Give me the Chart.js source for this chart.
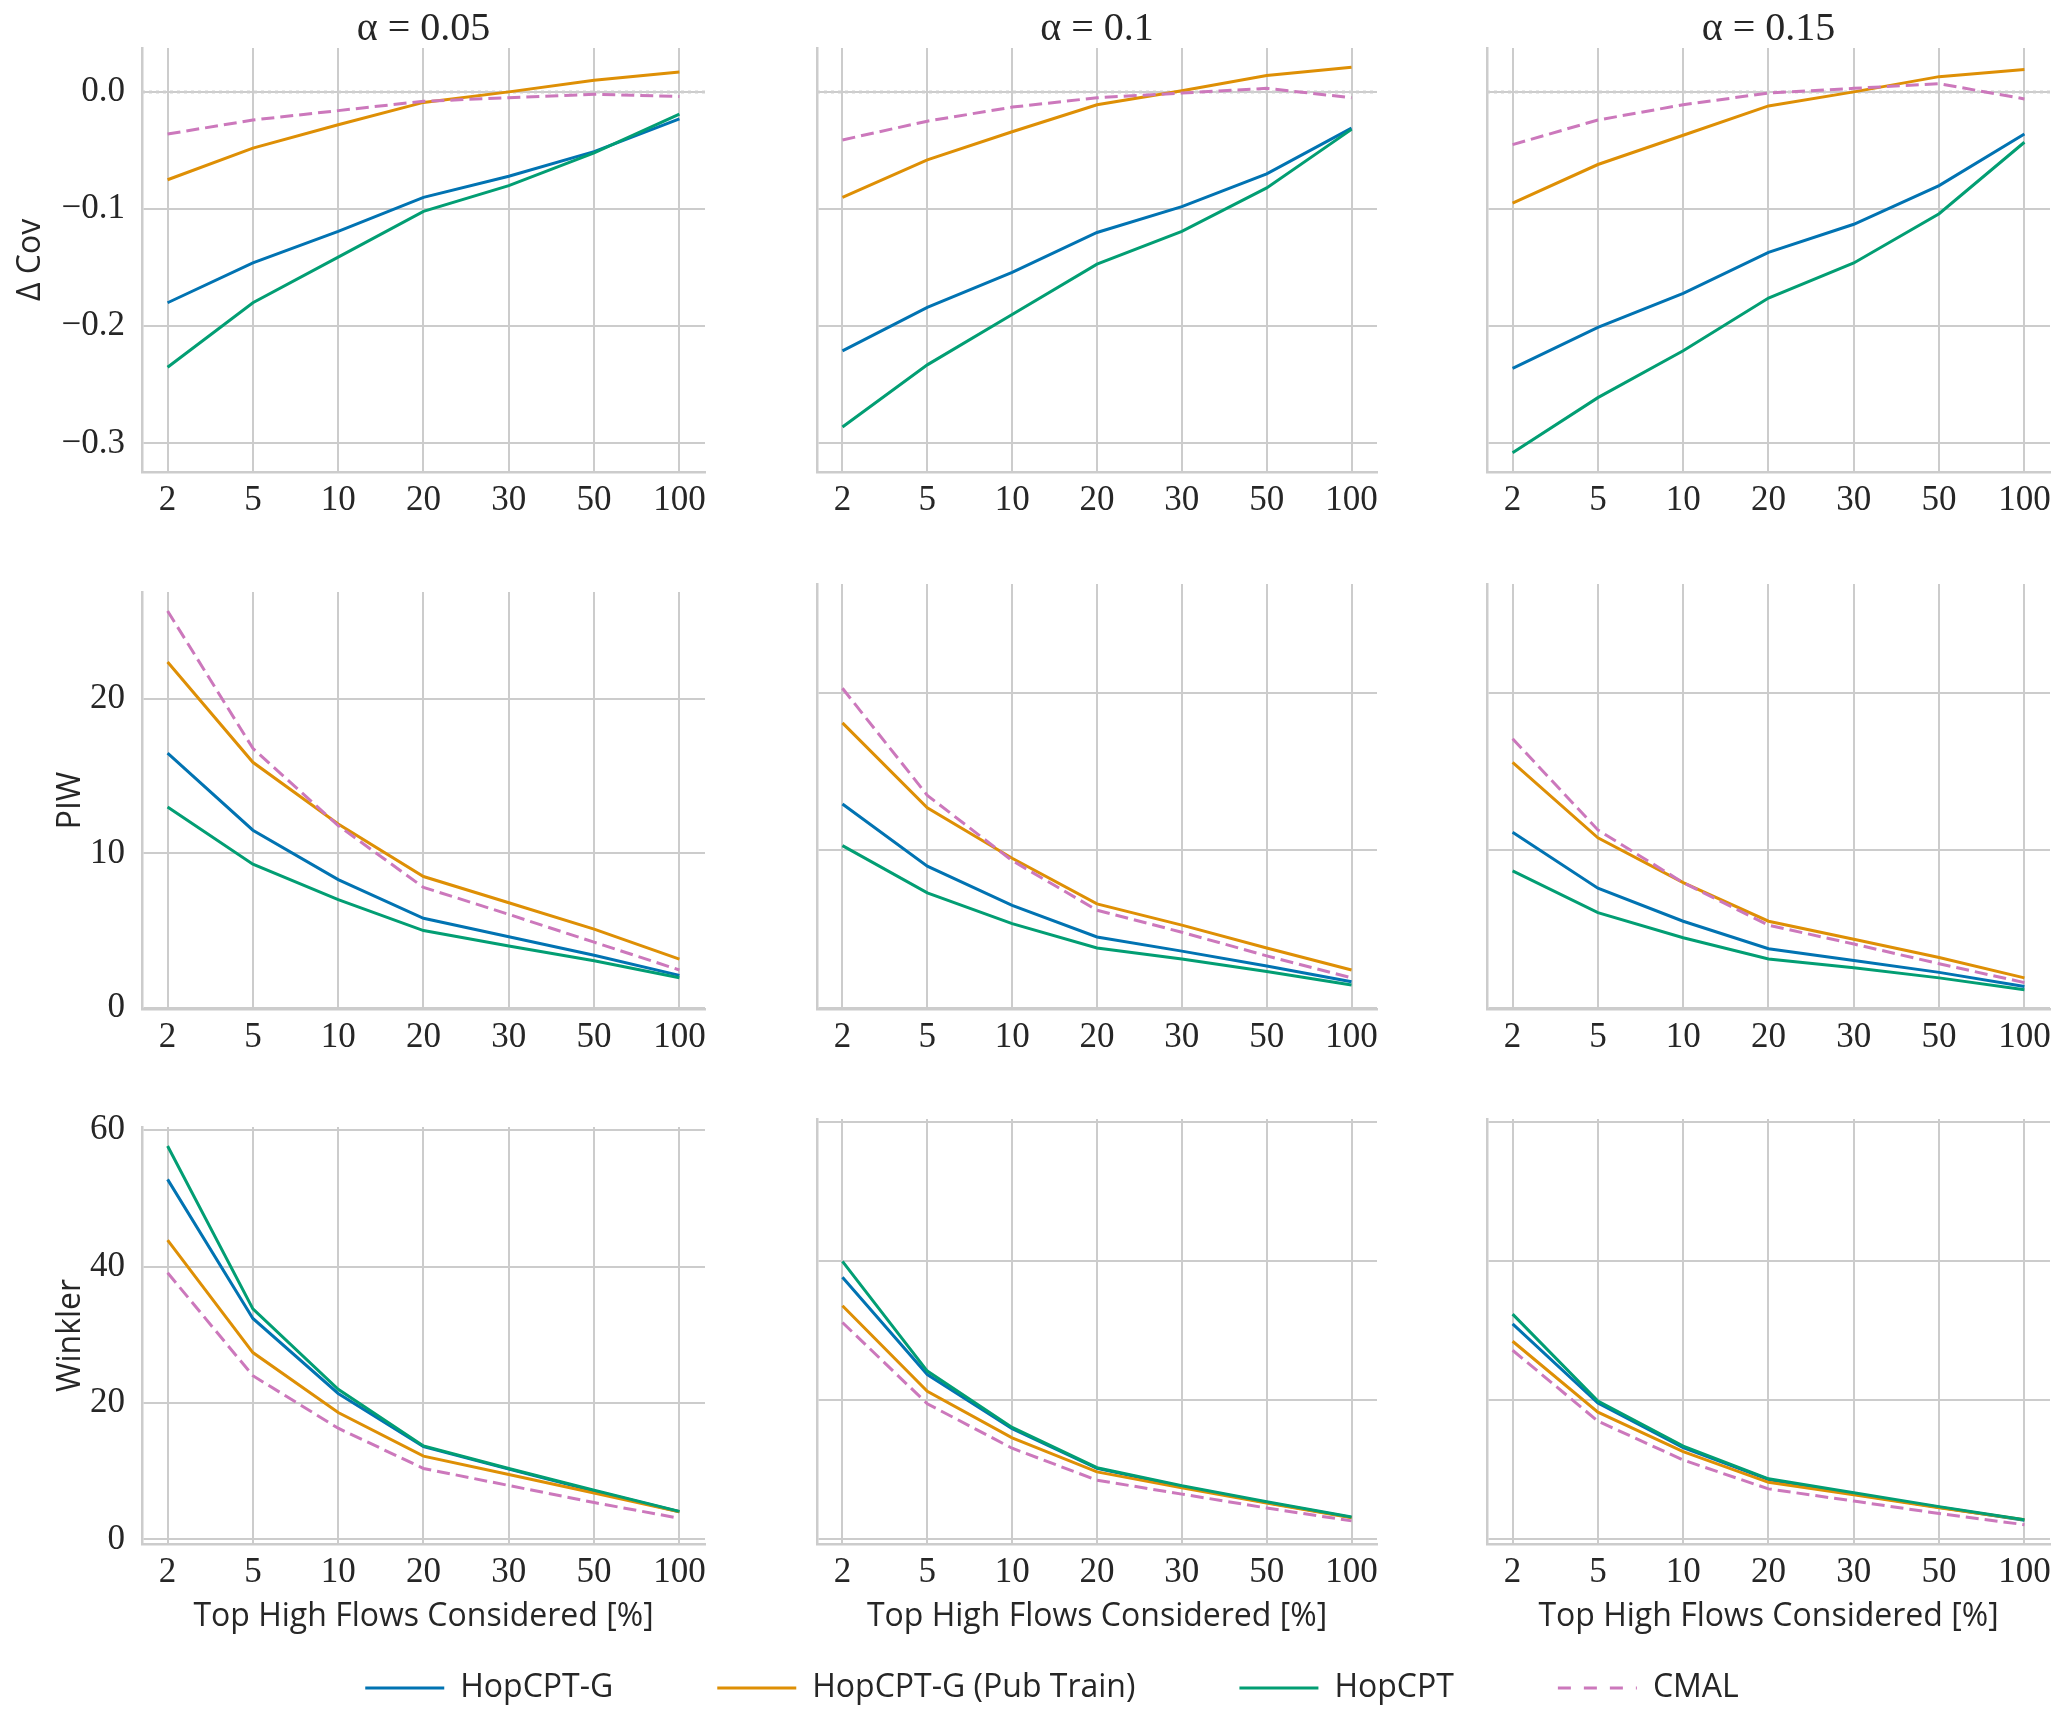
<!DOCTYPE html>
<html>
<head>
<meta charset="utf-8">
<script src="https://cdn.jsdelivr.net/npm/chart.js@4.4.1/dist/chart.umd.min.js"></script>
<style>
html, body { margin: 0; padding: 0; background: #fff; overflow: hidden; }
#fig { position: relative; width: 2067px; height: 1725px; overflow: hidden; }
#fig canvas { position: absolute; }
</style>
</head>
<body>
<div id="fig"></div>
<script>
// x categories (top high flows considered, %)
const categories = ['2', '5', '10', '20', '30', '50', '100'];
const alphaTitles = ['α = 0.05', 'α = 0.1', 'α = 0.15'];
const rowLabels = ['Δ Cov', 'PIW', 'Winkler'];
const xLabel = 'Top High Flows Considered [%]';

const covTicks = [-0.3, -0.2, -0.1, 0.0];
const piwTicks = [0, 10, 20];
const winklerTicks = [0, 20, 40, 60];

// each array: one row of 7 values per alpha (0.05, 0.1, 0.15)
const hopG_cov = [
    [-0.180, -0.146, -0.119, -0.090, -0.072, -0.051, -0.023],
    [-0.221, -0.184, -0.154, -0.120, -0.098, -0.070, -0.031],
    [-0.236, -0.201, -0.172, -0.137, -0.113, -0.080, -0.036]
];
const hopGPub_cov = [
    [-0.075, -0.048, -0.028, -0.009, 0.000, 0.010, 0.017],
    [-0.090, -0.058, -0.034, -0.011, 0.001, 0.014, 0.021],
    [-0.095, -0.062, -0.037, -0.012, 0.000, 0.013, 0.019]
];
const hop_cov = [
    [-0.235, -0.180, -0.141, -0.102, -0.080, -0.052, -0.019],
    [-0.286, -0.233, -0.190, -0.147, -0.119, -0.082, -0.032],
    [-0.308, -0.261, -0.221, -0.176, -0.146, -0.104, -0.043]
];
const cmal_cov = [
    [-0.036, -0.024, -0.016, -0.008, -0.005, -0.002, -0.004],
    [-0.041, -0.025, -0.013, -0.005, -0.001, 0.003, -0.005],
    [-0.045, -0.024, -0.011, -0.001, 0.003, 0.007, -0.006]
];

const hopG_piw = [
    [16.5, 11.5, 8.3, 5.8, 4.6, 3.4, 2.1],
    [12.95, 9.0, 6.5, 4.5, 3.6, 2.65, 1.65],
    [11.15, 7.6, 5.5, 3.75, 3.0, 2.25, 1.35]
];
const hopGPub_piw = [
    [22.4, 15.9, 11.9, 8.5, 6.8, 5.1, 3.15],
    [18.1, 12.7, 9.5, 6.6, 5.25, 3.8, 2.4],
    [15.6, 10.8, 7.95, 5.5, 4.35, 3.2, 1.9]
];
const hop_piw = [
    [13.0, 9.3, 7.0, 5.0, 4.0, 3.05, 1.95],
    [10.3, 7.3, 5.35, 3.8, 3.1, 2.3, 1.45],
    [8.7, 6.05, 4.45, 3.1, 2.55, 1.9, 1.15]
];
const cmal_piw = [
    [25.7, 16.8, 11.8, 7.8, 6.05, 4.25, 2.45],
    [20.3, 13.5, 9.35, 6.2, 4.8, 3.3, 1.9],
    [17.1, 11.3, 7.95, 5.25, 4.05, 2.8, 1.6]
];

const hopG_wink = [
    [52.8, 32.4, 21.4, 13.6, 10.3, 7.1, 4.05],
    [37.7, 23.7, 15.9, 10.2, 7.6, 5.3, 3.15],
    [31.0, 19.6, 13.2, 8.6, 6.5, 4.6, 2.75]
];
const hopGPub_wink = [
    [43.9, 27.4, 18.6, 12.2, 9.5, 6.8, 4.05],
    [33.6, 21.3, 14.6, 9.7, 7.4, 5.2, 3.1],
    [28.5, 18.3, 12.6, 8.2, 6.4, 4.55, 2.8]
];
const hop_wink = [
    [57.7, 33.8, 22.0, 13.7, 10.4, 7.2, 4.1],
    [40.0, 24.2, 16.1, 10.3, 7.7, 5.4, 3.2],
    [32.4, 19.9, 13.4, 8.7, 6.7, 4.7, 2.8]
];
const cmal_wink = [
    [39.1, 24.0, 16.3, 10.4, 7.9, 5.4, 3.1],
    [31.2, 19.5, 13.1, 8.5, 6.5, 4.5, 2.65],
    [27.2, 17.0, 11.4, 7.25, 5.5, 3.7, 2.1]
];

const models = [
    { name: 'HopCPT-G', color: '#0173b2', dash: [], legendDash: [] },
    { name: 'HopCPT-G (Pub Train)', color: '#de8f05', dash: [], legendDash: [] },
    { name: 'HopCPT', color: '#029e73', dash: [], legendDash: [] },
    { name: 'CMAL', color: '#cc78bc', dash: [13, 6], legendDash: [13, 13] }
];

const rows = [
    { series: [hopG_cov, hopGPub_cov, hop_cov, cmal_cov], ticks: covTicks, fmt: v => v.toFixed(1).replace('-', '\u2212') },
    { series: [hopG_piw, hopGPub_piw, hop_piw, cmal_piw], ticks: piwTicks, fmt: v => String(v) },
    { series: [hopG_wink, hopGPub_wink, hop_wink, cmal_wink], ticks: winklerTicks, fmt: v => String(v) }
];

// figure geometry (pixels)
const colLefts = [142, 817, 1487];
const colRights = [705, 1377, 2050];
const rowTops = [48, 584, 1119];
const rowHeights = [424, 425, 425];

const textColor = '#262626';
const gridColor = '#cccccc';
const serif = "'Liberation Serif', 'DejaVu Serif', serif";
const sans = "'Open Sans', Lato, sans-serif";

const xMin = -0.05 * (categories.length - 1);
const xMax = (categories.length - 1) * 1.05;

function rowLimits(series) {
    let all = [];
    series.forEach(s => s.forEach(a => all = all.concat(a)));
    let lo = Math.min(...all), hi = Math.max(...all);
    let m = (hi - lo) * 0.05;
    return [lo - m, hi + m];
}

const fig = document.getElementById('fig');

function makeCanvas(left, top, w, h) {
    let c = document.createElement('canvas');
    c.width = w;
    c.height = h;
    c.style.left = left + 'px';
    c.style.top = top + 'px';
    c.style.width = w + 'px';
    c.style.height = h + 'px';
    fig.appendChild(c);
    return c;
}

function makePanel(r, col) {
    const row = rows[r];
    const [yMin, yMax] = rowLimits(row.series);
    const top = rowTops[r];
    const bottom = top + rowHeights[r];
    const canvasLeft = col === 0 ? 0 : colLefts[col] - 50;
    const padLeft = col === 0 ? (r === 0 ? 12 : 52) : 0;
    const yAxisW = colLefts[col] - canvasLeft - padLeft;
    const canvasTop = r === 0 ? 0 : top - 30;
    const padTop = r === 0 ? 0 : 30;
    const xAxisH = r === 2 ? 92 : 62;
    const w = colRights[col] + 20 - canvasLeft;
    const h = bottom + xAxisH + 4 - canvasTop;

    const datasets = models.map((m, k) => ({
        label: m.name,
        data: row.series[k][col].map((v, i) => ({ x: i, y: v })),
        borderColor: m.color,
        backgroundColor: m.color,
        borderWidth: 3,
        borderDash: m.dash,
        pointRadius: 0,
        tension: 0,
        order: 4 - k
    }));
    if (r === 0) {
        datasets.push({
            label: 'zero',
            data: [{ x: xMin, y: 0 }, { x: xMax, y: 0 }],
            borderColor: '#cfcfcf',
            borderWidth: 3,
            borderDash: [3, 4],
            pointRadius: 0,
            order: 10
        });
    }

    new Chart(makeCanvas(canvasLeft, canvasTop, w, h), {
        type: 'line',
        data: { datasets: datasets },
        options: {
            responsive: false,
            animation: false,
            layout: { padding: { left: padLeft, top: padTop, right: 20, bottom: 4 } },
            plugins: {
                legend: { display: false },
                tooltip: { enabled: false },
                title: {
                    display: r === 0,
                    fullSize: false,
                    text: alphaTitles[col],
                    color: textColor,
                    font: { family: serif, size: 40, weight: 'normal', lineHeight: 1 },
                    padding: { top: 9, bottom: -1 }
                }
            },
            scales: {
                x: {
                    type: 'linear',
                    min: xMin,
                    max: xMax,
                    afterBuildTicks: s => { s.ticks = categories.map((c, i) => ({ value: i })); },
                    afterFit: s => { s.height = xAxisH; },
                    ticks: {
                        color: textColor,
                        font: { family: serif, size: 35 },
                        padding: 8,
                        maxRotation: 0,
                        autoSkip: false,
                        callback: v => categories[v]
                    },
                    grid: { color: gridColor, lineWidth: 2, drawTicks: false },
                    border: { display: true, color: gridColor, width: 2.5 },
                    title: {
                        display: r === 2,
                        text: xLabel,
                        color: textColor,
                        font: { family: sans, size: 32 },
                        padding: { top: 0, bottom: 0 }
                    }
                },
                y: {
                    type: 'linear',
                    min: yMin,
                    max: yMax,
                    afterBuildTicks: s => { s.ticks = row.ticks.map(v => ({ value: v })); },
                    afterFit: s => { s.width = yAxisW; },
                    ticks: {
                        display: col === 0,
                        color: textColor,
                        font: { family: serif, size: 35 },
                        padding: 17,
                        callback: v => row.fmt(v)
                    },
                    grid: { color: gridColor, lineWidth: 2, drawTicks: false },
                    border: { display: true, color: gridColor, width: 2.5 },
                    title: {
                        display: col === 0,
                        text: rowLabels[r],
                        color: textColor,
                        font: { family: sans, size: 32 },
                        padding: { top: 0, bottom: 0 }
                    }
                }
            }
        }
    });
}

for (let r = 0; r < 3; r++) {
    for (let c = 0; c < 3; c++) {
        makePanel(r, c);
    }
}

// shared legend at the bottom (canvas made tall so the legend box is not clipped)
new Chart(makeCanvas(37, 1568, 2030, 560), {
    type: 'line',
    data: {
        datasets: models.map(m => ({
            label: m.name,
            data: [],
            borderColor: m.color,
            backgroundColor: m.color,
            borderWidth: 3,
            borderDash: m.legendDash
        }))
    },
    options: {
        responsive: false,
        animation: false,
        plugins: {
            tooltip: { enabled: false },
            legend: {
                position: 'top',
                labels: {
                    usePointStyle: true,
                    pointStyle: 'line',
                    pointStyleWidth: 79,
                    color: textColor,
                    font: { family: sans, size: 32 },
                    padding: 104,
                    generateLabels: chart => {
                        const items = Chart.defaults.plugins.legend.labels.generateLabels(chart);
                        items.forEach((it, i) => {
                            it.lineDash = models[i].legendDash;
                            it.lineWidth = 3;
                            it.strokeStyle = models[i].color;
                        });
                        return items;
                    }
                }
            }
        },
        scales: { x: { display: false }, y: { display: false } }
    }
});
</script>
</body>
</html>
